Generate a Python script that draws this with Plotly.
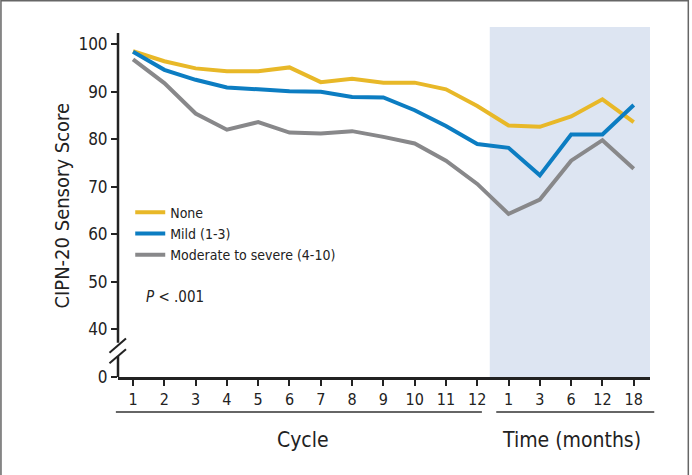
import plotly.graph_objects as go

# ---- data ----
tick_labels = ["1", "2", "3", "4", "5", "6", "7", "8", "9", "10", "11", "12",
               "1", "3", "6", "12", "18"]
none_scores = [98.5, 96.4, 94.9, 94.3, 94.3, 95.1, 92.0, 92.7, 91.9, 91.9, 90.5, 87.0,
               82.9, 82.6, 84.8, 88.4, 83.6]
mild_scores = [98.4, 94.6, 92.5, 90.9, 90.5, 90.1, 90.0, 88.9, 88.8, 86.1, 82.8, 79.0,
               78.2, 72.4, 81.0, 81.0, 87.2]
severe_scores = [96.8, 91.8, 85.4, 82.0, 83.6, 81.4, 81.2, 81.7, 80.5, 79.1, 75.5, 70.6,
                 64.3, 67.3, 75.5, 79.8, 73.8]
series_names = ["None", "Mild (1-3)", "Moderate to severe (4-10)"]
y_tick_vals = [30, 40, 50, 60, 70, 80, 90, 100]   # 30 is drawn as the broken-axis "0"
y_tick_text = ["0", "40", "50", "60", "70", "80", "90", "100"]

colors = ["#E8B828", "#0C7DC2", "#88888A"]
FONT = "Liberation Sans Narrow, DejaVu Sans Condensed, Arial Narrow, sans-serif"
x_pos = list(range(len(tick_labels)))

fig = go.Figure()
for name, vals, c in zip(series_names, [none_scores, mild_scores, severe_scores], colors):
    fig.add_trace(go.Scatter(x=x_pos, y=vals, mode="lines", name=name,
                             line=dict(color=c, width=4)))

shapes = []
# shaded follow-up region
shapes.append(dict(type="rect", xref="x", yref="paper", x0=11.4, x1=16.52, y0=0, y1=1,
                   fillcolor="#DDE5F2", line=dict(width=0), layer="below"))
# y axis line segments (broken)
ax_col = "#222222"
shapes.append(dict(type="line", xref="paper", yref="paper", x0=0, x1=0, y0=0.098, y1=0.983,
                   line=dict(color=ax_col, width=2.5)))
shapes.append(dict(type="line", xref="paper", yref="paper", x0=0, x1=0, y0=0, y1=0.06,
                   line=dict(color=ax_col, width=2.5)))
# break slashes
shapes.append(dict(type="line", xref="paper", yref="paper", x0=-0.016, x1=0.015, y0=0.069, y1=0.110,
                   line=dict(color=ax_col, width=2)))
shapes.append(dict(type="line", xref="paper", yref="paper", x0=-0.016, x1=0.015, y0=0.039, y1=0.079,
                   line=dict(color=ax_col, width=2)))
# group underlines
shapes.append(dict(type="line", xref="paper", yref="paper", x0=-0.004, x1=0.684, y0=-0.1, y1=-0.1,
                   line=dict(color="#333333", width=1.5)))
shapes.append(dict(type="line", xref="paper", yref="paper", x0=0.711, x1=1.008, y0=-0.1, y1=-0.1,
                   line=dict(color="#333333", width=1.5)))
# outer frame
shapes.append(dict(type="rect", xref="paper", yref="paper", x0=-0.220, x1=1.072, y0=-0.3, y1=1.075,
                   line=dict(color="#666666", width=1.5), fillcolor="rgba(0,0,0,0)"))

annotations = [
    dict(text="Cycle", xref="paper", yref="paper", x=0.348, y=-0.18, showarrow=False,
         font=dict(size=21, color="#222", family=FONT), xanchor="center", yanchor="middle"),
    dict(text="Time (months)", xref="paper", yref="paper", x=0.853, y=-0.18, showarrow=False,
         font=dict(size=21, color="#222", family=FONT), xanchor="center", yanchor="middle"),
    dict(text="<i>P</i> < .001", xref="paper", yref="paper", x=0.049, y=0.229, showarrow=False,
         font=dict(size=15, color="#222", family=FONT), xanchor="left", yanchor="middle"),
    dict(text="CIPN-20 Sensory Score", xref="paper", yref="paper", x=-0.107, y=0.49,
         showarrow=False, textangle=-90,
         font=dict(size=20, color="#222", family=FONT), xanchor="center", yanchor="middle"),
]

fig.update_layout(
    width=692, height=475,
    margin=dict(l=118, r=42, t=27, b=98),
    paper_bgcolor="white", plot_bgcolor="white",
    font=dict(family=FONT, color="#222", size=16),
    showlegend=True,
    legend=dict(x=0.023, y=0.515, xanchor="left", yanchor="top", tracegroupgap=0,
                bgcolor="rgba(0,0,0,0)", font=dict(size=14, family=FONT)),
    shapes=shapes, annotations=annotations,
    xaxis=dict(range=[-0.48, 16.52], tickvals=x_pos, ticktext=tick_labels,
               showgrid=False, zeroline=False, showline=True, linecolor=ax_col, linewidth=2.5,
               ticks="outside", ticklen=6, tickwidth=1.5, tickcolor=ax_col,
               tickfont=dict(size=16, family=FONT)),
    yaxis=dict(range=[30, 103.6], tickvals=y_tick_vals, ticktext=y_tick_text,
               showgrid=False, zeroline=False, showline=False,
               ticks="outside", ticklen=6, tickwidth=1.5, tickcolor=ax_col,
               tickfont=dict(size=17, family=FONT)),
)

fig.write_html("out.html", config={"displayModeBar": False},
               post_script="document.body.style.margin='0';")
